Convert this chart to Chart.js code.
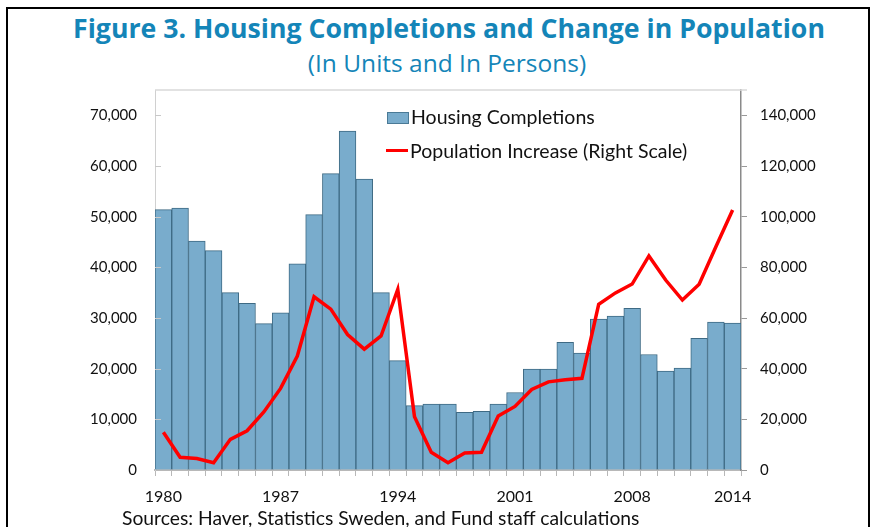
<!DOCTYPE html>
<html>
<head>
<meta charset="utf-8">
<script src="https://cdn.jsdelivr.net/npm/chart.js@4.4.1/dist/chart.umd.min.js"></script>
<style>
  html, body { margin: 0; padding: 0; background: #fff; overflow: hidden; }
  body { width: 873px; height: 527px; position: relative; font-family: Lato, "Open Sans", sans-serif; }
  .frame { position: absolute; left: 6px; top: 7px; width: 860px; height: 540px;
    border: 2.5px solid #000; border-bottom: none; }
  .title { position: absolute; left: 0; width: 898px; top: 12px; text-align: center;
    font-family: "Open Sans", sans-serif; font-size: 26.7px; font-weight: bold; color: #1485b8; line-height: 32px; }
  .subtitle { position: absolute; left: 0; width: 894px; top: 48px; text-align: center;
    font-family: "Open Sans", sans-serif; font-size: 24.5px; color: #1485b8; line-height: 30px; }
  .wrap { position: absolute; left: 0; top: 0; width: 873px; height: 527px; }
  .leg { position: absolute; font-size: 19.5px; color: #111; line-height: 22px; white-space: nowrap; }
  .patch { position: absolute; left: 387px; top: 112px; width: 20px; height: 10px;
    background: #79accc; border: 1px solid #4a7a96; }
  .redline { position: absolute; left: 386px; top: 149px; width: 22px; height: 3px; background: #ff0000; }
  .src { position: absolute; left: 122px; top: 506px; font-size: 19.3px; color: #111; white-space: nowrap; line-height: 24px; }
</style>
</head>
<body>
<div class="frame"></div>
<div class="title">Figure 3. Housing Completions and Change in Population</div>
<div class="subtitle">(In Units and In Persons)</div>
<div class="wrap"><canvas id="c"></canvas></div>
<div class="patch"></div>
<div class="leg" style="left:411px; top:106px">Housing Completions</div>
<div class="redline"></div>
<div class="leg" style="left:410px; top:140px">Population Increase (Right Scale)</div>
<div class="src">Sources: Haver, Statistics Sweden, and Fund staff calculations</div>
<script>
// Years 1980-2014
const YEARS = [];
for (let y = 1980; y <= 2014; y++) YEARS.push(String(y));

// Housing completions (units, left scale)
const COMPLETIONS = [
  51400, 51700, 45200, 43300, 35000, 32900, 28900, 31000, 40700, 50400,
  58500, 66900, 57400, 35000, 21600, 12700, 13000, 13000, 11400, 11600,
  13000, 15300, 19900, 19900, 25200, 23100, 29800, 30400, 31900, 22800,
  19500, 20100, 26000, 29200, 29000,
];

// Population increase (persons, right scale)
const POPULATION = [
  14900, 5000, 4500, 2900, 12100, 15500, 22900, 32200, 45000, 68400,
  63500, 53500, 47700, 52900, 71300, 21000, 7000, 2900, 6700, 7000,
  21300, 25100, 31800, 34800, 35600, 36200, 65400, 69900, 73400, 84500,
  75000, 67100, 73300, 88100, 102600,
];

const LEFT_TICKS = [0, 10000, 20000, 30000, 40000, 50000, 60000, 70000];
const RIGHT_TICKS = [0, 20000, 40000, 60000, 80000, 100000, 120000, 140000];
const LEFT_MAX = 75000, RIGHT_MAX = 150000;
const LABEL_EVERY = 7;

const tickFont = { family: "Lato, 'Open Sans', sans-serif", size: 15 };

// top frame line of the plot + small inward ticks on the left axis
const decor = {
  id: "decor",
  afterDraw(chart) {
    const { ctx, chartArea: a, scales } = chart;
    ctx.save();
    ctx.strokeStyle = "#d8d8d8";
    ctx.lineWidth = 1.5;
    ctx.beginPath();
    ctx.moveTo(a.left, a.top); ctx.lineTo(a.right + 6, a.top);
    ctx.stroke();
    ctx.strokeStyle = "#c8c8c8";
    ctx.lineWidth = 1;
    scales.y.ticks.forEach(t => {
      if (t.value === 0) return;
      const py = Math.round(scales.y.getPixelForValue(t.value)) + 0.5;
      ctx.beginPath();
      ctx.moveTo(a.left, py); ctx.lineTo(a.left + 6, py);
      ctx.stroke();
    });
    ctx.restore();
  },
};

new Chart(document.getElementById("c"), {
  type: "bar",
  data: {
    labels: YEARS,
    datasets: [
      {
        type: "line", label: "Population Increase (Right Scale)", data: POPULATION,
        yAxisID: "y1", borderColor: "#ff0000", borderWidth: 3.5, pointRadius: 0,
        tension: 0, order: 0,
      },
      {
        label: "Housing Completions", data: COMPLETIONS, yAxisID: "y",
        backgroundColor: "#79accc", borderColor: "#3e6a84", borderWidth: 1,
        categoryPercentage: 1, barPercentage: 1, order: 1,
      },
    ],
  },
  options: {
    responsive: true, maintainAspectRatio: false, animation: false,
    layout: { padding: { left: 55, right: 52, top: 90, bottom: 17 } },
    plugins: { legend: { display: false }, tooltip: { enabled: false } },
    scales: {
      x: {
        grid: { offset: true, drawOnChartArea: false, tickLength: 6, color: "#b8b8b8" },
        border: { color: "#b8b8b8", width: 2 },
        ticks: {
          autoSkip: false, maxRotation: 0, padding: 11, color: "#111", font: { ...tickFont, size: 16 },
          callback: (v, i) => (i % LABEL_EVERY === 0 || i === YEARS.length - 1) ? YEARS[i] : "",
        },
        afterFit: s => { s.height = 40; },
      },
      y: {
        position: "left", min: 0, max: LEFT_MAX,
        grid: { drawOnChartArea: false, drawTicks: false },
        border: { color: "#d0d0d0", width: 1 },
        ticks: { padding: 18, color: "#111", font: tickFont,
          callback: v => v.toLocaleString("en-US") },
        afterBuildTicks: s => { s.ticks = LEFT_TICKS.map(v => ({ value: v })); },
        afterFit: s => { s.width = 100; },
      },
      y1: {
        position: "right", min: 0, max: RIGHT_MAX,
        grid: { drawOnChartArea: false, tickLength: 6, color: "#999" },
        border: { color: "#8a8a8a", width: 1.5 },
        ticks: { padding: 13, color: "#111", font: tickFont,
          callback: v => v.toLocaleString("en-US") },
        afterBuildTicks: s => { s.ticks = RIGHT_TICKS.map(v => ({ value: v })); },
        afterFit: s => { s.width = 80; },
      },
    },
  },
  plugins: [decor],
});
</script>
</body>
</html>
